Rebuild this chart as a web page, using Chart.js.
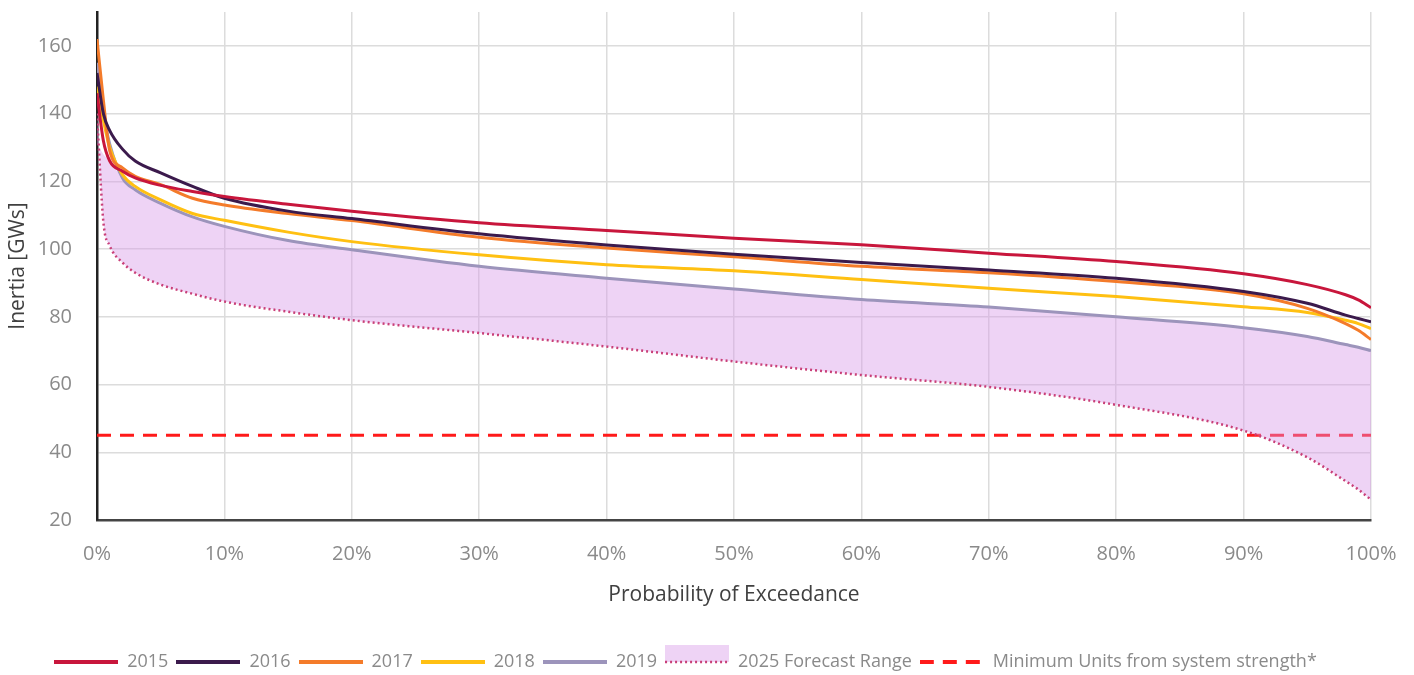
<!DOCTYPE html>
<html>
<head>
<meta charset="utf-8">
<script src="https://cdn.jsdelivr.net/npm/chart.js@4"></script>
<style>
    html, body { margin: 0; padding: 0; background: #fff; }
</style>
</head>
<body>
<canvas id="inertia-chart" width="1414" height="675"></canvas>
<script>
// Probability of exceedance (%) at which each curve was read
const probability = [0, 0.5, 1, 2, 3, 5, 7.5, 10, 15, 20, 30, 40, 50, 60, 70, 80, 90, 95, 98, 99, 100];

// Inertia [GWs] per year
const inertia2015 = [146, 132, 126, 123, 121, 118.8, 117, 115.5, 113.2, 111.2, 107.8, 105.5, 103.2, 101.3, 98.8, 96.3, 92.7, 89.5, 86.5, 85, 82.7];
const inertia2016 = [152, 140, 135, 129.5, 126, 122.5, 118.5, 115, 111.2, 109, 104.5, 101.2, 98.5, 96, 93.8, 91.4, 87.5, 84, 80.5, 79.5, 78.5];
const inertia2017 = [162, 144, 129, 124, 121.5, 119, 115, 113, 110.5, 108.4, 103.5, 100.3, 97.7, 94.9, 93, 90.4, 86.8, 82.5, 78, 76, 73.3];
const inertia2018 = [148, 138, 130, 122, 118.5, 114.5, 110.5, 108.5, 105, 102.2, 98.3, 95.4, 93.6, 91, 88.4, 86, 83, 81.3, 79, 78, 76.5];
const inertia2019 = [155, 140, 131, 121, 117.5, 113.5, 109.5, 106.7, 102.5, 99.8, 94.9, 91.4, 88.2, 85.1, 82.9, 80, 76.8, 74.2, 71.8, 71, 70];

// 2025 forecast range (upper and lower edge)
const forecastUpper = [131, 128, 126, 121, 117.5, 113.5, 109.5, 106.7, 102.5, 99.8, 94.9, 91.4, 88.2, 85.1, 82.9, 80, 76.8, 74.2, 71.8, 71, 70];
const forecastLower = [140, 108, 101, 96, 93, 89.5, 86.8, 84.5, 81.5, 79, 75.2, 71.2, 66.8, 62.8, 59.3, 54, 46.4, 38.5, 31.5, 29, 26];

// Minimum units from system strength
const minimumUnits = 45;

const xTickValues = [0, 10, 20, 30, 40, 50, 60, 70, 80, 90, 100];
const yTickValues = [20, 40, 60, 80, 100, 120, 140, 160];

const FONT = '"Open Sans", "Noto Sans", sans-serif';
const rangeFill = 'rgba(215, 150, 230, 0.42)';
const dotColor = '#c93f78';

const toPoints = values => values.map((v, i) => ({ x: probability[i], y: v }));

function lineIcon(color, dash, width) {
    const c = document.createElement('canvas');
    c.width = 64; c.height = 10;
    const g = c.getContext('2d');
    g.strokeStyle = color;
    g.lineWidth = width;
    g.setLineDash(dash);
    g.beginPath();
    g.moveTo(0, 5);
    g.lineTo(64, 5);
    g.stroke();
    return c;
}

function rangeIcon() {
    const c = document.createElement('canvas');
    c.width = 64; c.height = 44;
    const g = c.getContext('2d');
    g.fillStyle = rangeFill;
    g.fillRect(0, 0, 64, 22);
    g.strokeStyle = dotColor;
    g.lineWidth = 2.5;
    g.setLineDash([2, 3]);
    g.beginPath();
    g.moveTo(0, 22);
    g.lineTo(64, 22);
    g.stroke();
    return c;
}

const yearLine = (label, values, color) => ({
    label: label,
    data: toPoints(values),
    borderColor: color,
    backgroundColor: color,
    borderWidth: 3,
    pointRadius: 0,
    cubicInterpolationMode: 'monotone',
    fill: false,
    icon: lineIcon(color, [], 4)
});

const datasets = [
    yearLine('2015', inertia2015, '#c8163c'),
    yearLine('2016', inertia2016, '#3b1a4c'),
    yearLine('2017', inertia2017, '#f47b2a'),
    yearLine('2018', inertia2018, '#ffc012'),
    yearLine('2019', inertia2019, '#9c94bb'),
    {
        label: 'upper',
        data: toPoints(forecastUpper),
        borderWidth: 0,
        borderColor: 'rgba(0,0,0,0)',
        pointRadius: 0,
        cubicInterpolationMode: 'monotone',
        fill: false
    },
    {
        label: '2025 Forecast Range',
        data: toPoints(forecastLower),
        borderColor: dotColor,
        borderWidth: 2.5,
        borderDash: [2, 3],
        backgroundColor: rangeFill,
        pointRadius: 0,
        cubicInterpolationMode: 'monotone',
        fill: '-1',
        icon: rangeIcon()
    },
    {
        label: 'Minimum Units from system strength*',
        data: [{ x: 0, y: minimumUnits }, { x: 100, y: minimumUnits }],
        borderColor: '#ff1a1a',
        borderWidth: 3,
        borderDash: [14, 9],
        pointRadius: 0,
        fill: false,
        icon: lineIcon('#ff1a1a', [14, 9], 4)
    }
];

const ctx = document.getElementById('inertia-chart').getContext('2d');
new Chart(ctx, {
    type: 'line',
    data: { datasets },
    options: {
        responsive: false,
        animation: false,
        layout: { padding: { left: 0, right: 43, top: 0, bottom: -6 } },
        plugins: {
            tooltip: { enabled: false },
            legend: {
                position: 'bottom',
                labels: {
                    usePointStyle: true,
                    pointStyleWidth: 64,
                    padding: 8,
                    color: '#8a8a8a',
                    font: { family: FONT, size: 18 },
                    generateLabels: chart => {
                        const items = Chart.defaults.plugins.legend.labels.generateLabels(chart);
                        return items
                            .filter(item => chart.data.datasets[item.datasetIndex].icon)
                            .map(item => {
                                item.pointStyle = chart.data.datasets[item.datasetIndex].icon;
                                return item;
                            });
                    }
                }
            }
        },
        scales: {
            x: {
                type: 'linear',
                min: 0,
                max: 100,
                afterBuildTicks: axis => { axis.ticks = xTickValues.map(v => ({ value: v })); },
                afterFit: axis => { axis.height = 125; },
                ticks: {
                    callback: v => v + '%',
                    color: '#8a8a8a',
                    font: { family: FONT, size: 20 },
                    padding: 0,
                    maxRotation: 0,
                    autoSkip: false
                },
                // invisible tick marks keep the labels away from the axis
                grid: { color: '#dcdcdc', lineWidth: 1.5, drawTicks: true, tickLength: 22, tickColor: 'rgba(0,0,0,0)' },
                border: { color: '#444', width: 2.5 },
                title: {
                    display: true,
                    text: 'Probability of Exceedance',
                    color: '#404040',
                    font: { family: FONT, size: 21 },
                    padding: { top: 0, bottom: 37 }
                }
            },
            y: {
                min: 20,
                max: 170,
                afterBuildTicks: axis => { axis.ticks = yTickValues.map(v => ({ value: v })); },
                afterFit: axis => { axis.width = 97; },
                ticks: {
                    color: '#8a8a8a',
                    font: { family: FONT, size: 20 },
                    padding: 0
                },
                grid: { color: '#dcdcdc', lineWidth: 1.5, drawTicks: true, tickLength: 25, tickColor: 'rgba(0,0,0,0)' },
                border: { color: '#222', width: 2.5 },
                title: {
                    display: true,
                    text: 'Inertia [GWs]',
                    color: '#404040',
                    font: { family: FONT, size: 21 },
                    padding: { top: 5, bottom: 0 }
                }
            }
        }
    }
});
</script>
</body>
</html>
